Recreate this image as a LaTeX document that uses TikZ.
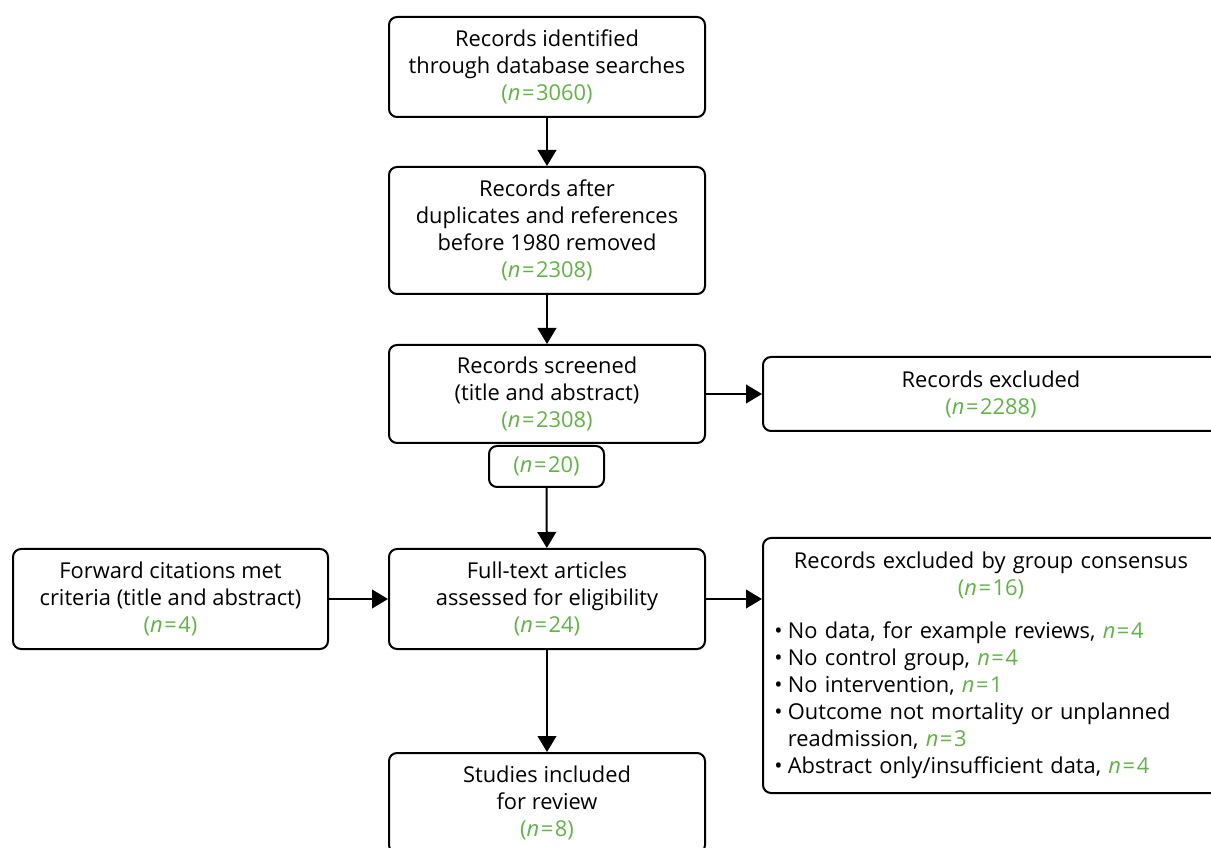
\documentclass[tikz,border=0pt]{standalone}
\usepackage{fontspec}
\setmainfont{Open Sans}
\usetikzlibrary{arrows.meta}
\definecolor{ngreen}{RGB}{98,178,72}
\newcommand{\nnum}[1]{\textcolor{ngreen}{(\textit{n}\kern1.2pt=\kern1.2pt#1)}}
\newcommand{\ninl}[1]{\textcolor{ngreen}{\textit{n}\kern1.2pt=\kern1.2pt#1}}
\newcommand{\bul}{\hspace*{4pt}\textbullet\kern4pt}
\begin{document}
\begin{tikzpicture}[x=0.75pt,y=-0.75pt,
  box/.style={draw,line width=1.5pt,rounded corners=6pt,align=center,inner sep=0pt,
    font=\fontsize{16.4pt}{20.25pt}\selectfont},
  arr/.style={line width=1.5pt,-{Triangle[length=12pt,width=14pt]}}]
\useasboundingbox (0,0) rectangle (1211,848);
\clip (0,0) rectangle (1211,848);
\node[box,minimum width=237pt,minimum height=75pt] (A) at (547,67)
  {Records identified\\through database searches\\\nnum{3060}};
\node[box,minimum width=237pt,minimum height=95.25pt] (B) at (547,230.5)
  {Records after\\duplicates and references\\before 1980 removed\\\nnum{2308}};
\node[box,minimum width=237pt,minimum height=73.5pt] (C) at (547,394)
  {Records screened\\(title and abstract)\\\nnum{2308}};
\node[box,minimum width=342pt,minimum height=55.5pt] (E1) at (991,394)
  {Records excluded\\\nnum{2288}};
\node[box,minimum width=86.25pt,minimum height=30.75pt] (S) at (546.5,466.5)
  {\nnum{20}};
\node[box,minimum width=237pt,minimum height=75pt] (F) at (547,599)
  {Full-text articles\\assessed for eligibility\\\nnum{24}};
\node[box,minimum width=236.25pt,minimum height=75pt] (W) at (170.5,599)
  {Forward citations met\\criteria (title and abstract)\\\nnum{4}};
\node[box,minimum width=342pt,minimum height=191.25pt,align=left,text width=333pt] (E2) at (991,665.5)
  {\makebox[\linewidth][c]{Records excluded by group consensus}\\
   \makebox[\linewidth][c]{\nnum{16}}\\[12pt]
   \bul No data, for example reviews, \ninl{4}\\
   \bul No control group, \ninl{4}\\
   \bul No intervention, \ninl{1}\\
   \bul Outcome not mortality or unplanned\\
   \phantom{\bul}readmission, \ninl{3}\\
   \bul Abstract only/insufficient data, \ninl{4}};
\node[box,minimum width=237pt,minimum height=75pt] (R) at (547,803)
  {Studies included\\for review\\\nnum{8}};
\draw[arr] (A) -- (B);
\draw[arr] (B) -- (C);
\draw[arr] (C) -- (E1);
\draw[arr] (S) -- (F);
\draw[arr] (W) -- (F);
\draw[arr] (F.east) -- (F.east -| E2.west);
\draw[arr] (F) -- (R);
\end{tikzpicture}
\end{document}
